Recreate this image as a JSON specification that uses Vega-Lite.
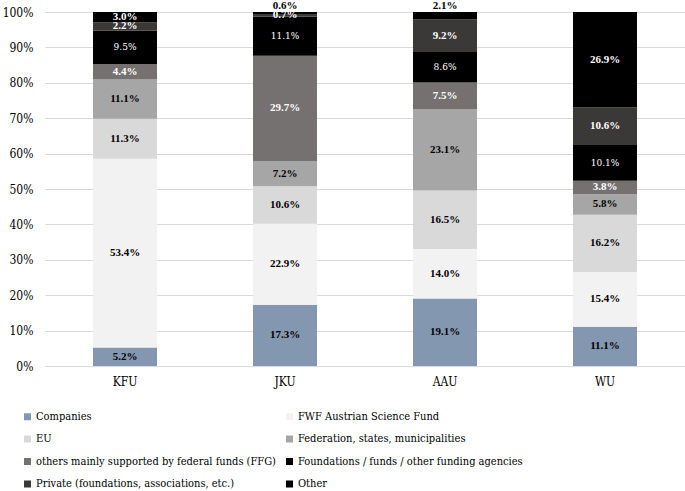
{
  "$schema": "https://vega.github.io/schema/vega-lite/v6.json",
  "width": 640,
  "height": 354,
  "autosize": {"type": "none"},
  "padding": {"left": 45, "top": 12, "right": 0, "bottom": 125},
  "background": "white",
  "config": {
    "view": {"stroke": null},
    "font": "DejaVu Serif Condensed",
    "axisY": {
      "title": null,
      "format": ".0%",
      "values": [0, 0.1, 0.2, 0.3, 0.4, 0.5, 0.6, 0.7, 0.8, 0.9, 1],
      "grid": true,
      "gridColor": "#d9d9d9",
      "domain": false,
      "ticks": false,
      "labelPadding": 12,
      "labelFont": "DejaVu Serif Condensed",
      "labelFontSize": 12,
      "labelColor": "#000000"
    }
  },
  "data": {
    "values": [
      {"u": "KFU", "s": "Companies", "k": 1, "v": 0.052},
      {"u": "KFU", "s": "FWF Austrian Science Fund", "k": 2, "v": 0.534},
      {"u": "KFU", "s": "EU", "k": 3, "v": 0.113},
      {"u": "KFU", "s": "Federation, states, municipalities", "k": 4, "v": 0.111},
      {"u": "KFU", "s": "others mainly supported by federal funds (FFG)", "k": 5, "v": 0.044},
      {"u": "KFU", "s": "Foundations / funds / other funding agencies", "k": 6, "v": 0.095},
      {"u": "KFU", "s": "Private (foundations, associations, etc.)", "k": 7, "v": 0.022},
      {"u": "KFU", "s": "Other", "k": 8, "v": 0.030},
      {"u": "JKU", "s": "Companies", "k": 1, "v": 0.173},
      {"u": "JKU", "s": "FWF Austrian Science Fund", "k": 2, "v": 0.229},
      {"u": "JKU", "s": "EU", "k": 3, "v": 0.106},
      {"u": "JKU", "s": "Federation, states, municipalities", "k": 4, "v": 0.072},
      {"u": "JKU", "s": "others mainly supported by federal funds (FFG)", "k": 5, "v": 0.297},
      {"u": "JKU", "s": "Foundations / funds / other funding agencies", "k": 6, "v": 0.111},
      {"u": "JKU", "s": "Private (foundations, associations, etc.)", "k": 7, "v": 0.007},
      {"u": "JKU", "s": "Other", "k": 8, "v": 0.006},
      {"u": "AAU", "s": "Companies", "k": 1, "v": 0.191},
      {"u": "AAU", "s": "FWF Austrian Science Fund", "k": 2, "v": 0.140},
      {"u": "AAU", "s": "EU", "k": 3, "v": 0.165},
      {"u": "AAU", "s": "Federation, states, municipalities", "k": 4, "v": 0.231},
      {"u": "AAU", "s": "others mainly supported by federal funds (FFG)", "k": 5, "v": 0.075},
      {"u": "AAU", "s": "Foundations / funds / other funding agencies", "k": 6, "v": 0.086},
      {"u": "AAU", "s": "Private (foundations, associations, etc.)", "k": 7, "v": 0.092},
      {"u": "AAU", "s": "Other", "k": 8, "v": 0.021},
      {"u": "WU", "s": "Companies", "k": 1, "v": 0.111},
      {"u": "WU", "s": "FWF Austrian Science Fund", "k": 2, "v": 0.154},
      {"u": "WU", "s": "EU", "k": 3, "v": 0.162},
      {"u": "WU", "s": "Federation, states, municipalities", "k": 4, "v": 0.058},
      {"u": "WU", "s": "others mainly supported by federal funds (FFG)", "k": 5, "v": 0.038},
      {"u": "WU", "s": "Foundations / funds / other funding agencies", "k": 6, "v": 0.101},
      {"u": "WU", "s": "Private (foundations, associations, etc.)", "k": 7, "v": 0.106},
      {"u": "WU", "s": "Other", "k": 8, "v": 0.269}
    ]
  },
  "encoding": {
    "x": {
      "field": "u",
      "type": "nominal",
      "sort": ["KFU", "JKU", "AAU", "WU"],
      "scale": {"paddingInner": 0.6, "paddingOuter": 0.3},
      "axis": {
        "title": null,
        "labelAngle": 0,
        "ticks": false,
        "domainColor": "#d9d9d9",
        "domainWidth": 1,
        "labelFont": "DejaVu Serif Condensed",
        "labelFontSize": 12,
        "labelColor": "#000000",
        "labelPadding": 10
      }
    }
  },
  "layer": [
    {
      "mark": {"type": "bar"},
      "encoding": {
        "y": {
          "field": "v",
          "type": "quantitative",
          "stack": "normalize",
          "scale": {"domain": [0, 1]}
        },
        "color": {
          "field": "s",
          "type": "nominal",
          "scale": {
            "domain": [
              "Companies",
              "EU",
              "others mainly supported by federal funds (FFG)",
              "Private (foundations, associations, etc.)",
              "FWF Austrian Science Fund",
              "Federation, states, municipalities",
              "Foundations / funds / other funding agencies",
              "Other"
            ],
            "range": ["#8497b0", "#d9d9d9", "#767171", "#3b3838", "#f2f2f2", "#a6a6a6", "#000000", "#000000"]
          },
          "legend": {
            "title": null,
            "orient": "none",
            "legendX": -23,
            "legendY": 399,
            "columns": 2,
            "symbolType": "square",
            "symbolSize": 49,
            "symbolStrokeWidth": 0,
            "labelFont": "DejaVu Serif Condensed",
            "labelFontSize": 11,
            "labelColor": "#000000",
            "labelOffset": 3,
            "labelLimit": 400,
            "columnPadding": 8,
            "rowPadding": 10.5
          }
        },
        "order": {"field": "k", "type": "quantitative"}
      }
    },
    {
      "mark": {"type": "text", "font": "Liberation Serif", "fontSize": 11, "fontWeight": "bold", "baseline": "middle"},
      "encoding": {
        "y": {"field": "v", "type": "quantitative", "stack": "normalize", "bandPosition": 0.5},
        "detail": {"field": "s"},
        "order": {"field": "k", "type": "quantitative"},
        "text": {"field": "v", "type": "quantitative", "format": ".1%"},
        "color": {"condition": {"test": "datum.k >= 5", "value": "#ffffff"}, "value": "#000000"},
        "opacity": {"condition": {"test": "datum.k == 6 || (datum.k == 8 && datum.v < 0.025)", "value": 0}, "value": 1}
      }
    },
    {
      "mark": {"type": "text", "font": "DejaVu Serif Condensed", "fontSize": 10, "fontWeight": "normal", "baseline": "middle"},
      "encoding": {
        "y": {"field": "v", "type": "quantitative", "stack": "normalize", "bandPosition": 0.5},
        "detail": {"field": "s"},
        "order": {"field": "k", "type": "quantitative"},
        "text": {"field": "v", "type": "quantitative", "format": ".1%"},
        "color": {"value": "#ffffff"},
        "opacity": {"condition": {"test": "datum.k == 6", "value": 1}, "value": 0}
      }
    },
    {
      "transform": [{"filter": "datum.k == 8 && datum.v < 0.025"}],
      "mark": {"type": "text", "font": "Liberation Serif", "fontSize": 11, "fontWeight": "bold", "baseline": "middle", "dy": -6},
      "encoding": {
        "y": {"datum": 1, "type": "quantitative"},
        "text": {"field": "v", "type": "quantitative", "format": ".1%"},
        "color": {"value": "#000000"}
      }
    }
  ]
}
